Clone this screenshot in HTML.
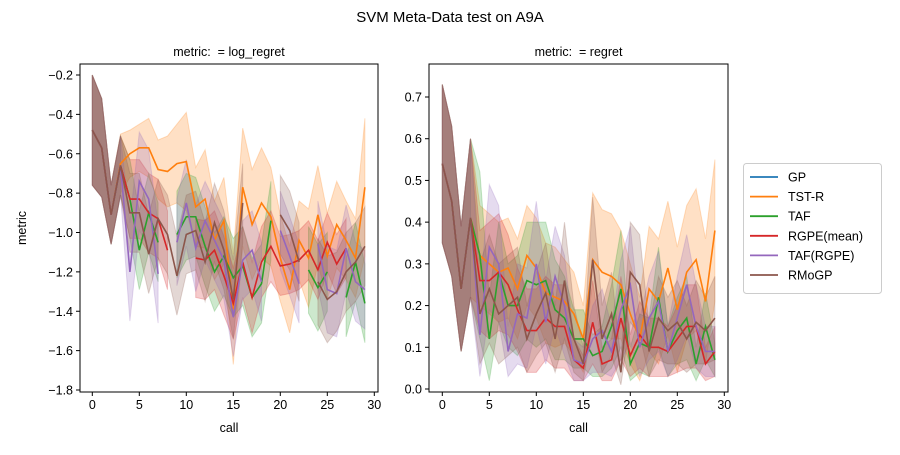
<!DOCTYPE html>
<html><head><meta charset="utf-8"><style>
body{margin:0;background:#fff;}
svg text{font-family:"Liberation Sans",sans-serif;fill:#000;white-space:pre;}
</style></head><body>
<svg id="c" width="900" height="450" xmlns="http://www.w3.org/2000/svg">
<text x="450" y="22" font-size="15" text-anchor="middle">SVM Meta-Data test on A9A</text>
</svg>
<script>
const seriesNames=["GP","TST-R","TAF","RGPE(mean)","TAF(RGPE)","RMoGP"];
const colors=["#1f77b4","#ff7f0e","#2ca02c","#d62728","#9467bd","#8c564b"];
const xTicks=[0,5,10,15,20,25,30];
const logTicks=[-0.2,-0.4,-0.6,-0.8,-1.0,-1.2,-1.4,-1.6,-1.8];
const regTicks=[0.0,0.1,0.2,0.3,0.4,0.5,0.6,0.7];
const N=null;
// log_regret means
const logGP=[-0.48,-0.57,-0.91,-0.66,N,N,N,N,N,N,N,N,N,N,N,N,N,N,N,N,N,N,N,N,N,N,N,N,N,N];
const logTST=[-0.48,-0.57,-0.91,-0.65,-0.6,-0.57,-0.57,-0.68,-0.69,-0.65,-0.64,-0.87,-0.83,-1.04,-0.94,-1.39,-0.77,-0.96,-0.85,-0.92,-1.13,-1.29,-1.04,-1.13,-0.91,-1.12,-0.96,-1.04,-1.13,-0.77];
const logTAF=[-0.48,-0.57,-0.91,-0.66,-0.83,-1.09,-0.9,-1.05,N,-1.01,-0.92,-0.92,-1.07,-1.2,-1.12,-1.23,-1.17,-1.33,-1.26,-0.94,N,N,N,-1.19,-1.28,-1.2,N,-1.33,-1.15,-1.36];
const logRGPE=[-0.48,-0.57,-0.91,-0.66,-0.83,-0.83,-0.9,-0.93,-1.09,N,N,-1.13,-1.14,-1.09,-1.22,-1.36,-1.15,-1.33,-1.15,-1.07,-1.17,-1.16,-1.14,-1.09,-1.19,-1.05,-1.16,-1.08,N,N];
const logTAFR=[-0.48,-0.57,-0.91,-0.66,-1.2,-0.74,-0.83,-1.21,N,-1.05,-0.85,-1.08,-0.94,-1.04,-1.14,-1.43,-1.14,-1.09,-1.25,N,-0.99,-1.12,-1.26,N,-1.06,-1.29,-1.31,-1.08,-1.25,-1.29];
const logRMo=[-0.48,-0.57,-0.91,-0.66,-0.9,-0.9,-1.11,-0.93,-1.01,-1.22,-1.01,-0.99,-1.15,-0.95,-1.09,-1.34,-0.85,N,N,N,-0.91,-0.99,-1.15,N,-1.25,-1.34,-1.3,-1.2,-1.15,-1.07];
const logErrTST=[0.28,0.25,0.15,0.15,0.12,0.12,0.15,0.15,0.18,0.2,0.25,0.2,0.25,0.2,0.22,0.28,0.3,0.28,0.28,0.25,0.22,0.22,0.2,0.25,0.25,0.22,0.22,0.2,0.2,0.35];
const logErrTAF=[0.28,0.25,0.15,0.15,0.2,0.2,0.2,0.2,0.2,0.22,0.22,0.2,0.2,0.2,0.2,0.2,0.2,0.2,0.2,0.2,0.2,0.2,0.2,0.22,0.22,0.2,0.2,0.2,0.2,0.2];
const logErrRGPE=[0.28,0.25,0.15,0.15,0.2,0.2,0.2,0.2,0.2,0.2,0.2,0.2,0.2,0.2,0.2,0.18,0.18,0.18,0.18,0.18,0.15,0.15,0.15,0.15,0.15,0.15,0.15,0.15,0.15,0.15];
const logErrTAFR=[0.28,0.25,0.15,0.15,0.25,0.25,0.25,0.25,0.2,0.22,0.22,0.22,0.2,0.2,0.2,0.2,0.2,0.2,0.2,0.2,0.2,0.2,0.2,0.2,0.22,0.22,0.22,0.22,0.2,0.2];
const logErrRMo=[0.28,0.25,0.15,0.15,0.2,0.2,0.2,0.2,0.2,0.2,0.2,0.2,0.2,0.2,0.2,0.2,0.2,0.2,0.2,0.2,0.2,0.2,0.2,0.2,0.22,0.22,0.2,0.2,0.2,0.2];
// regret means
const regGP=[0.54,0.45,0.24,0.41,N,N,N,N,N,N,N,N,N,N,N,N,N,N,N,N,N,N,N,N,N,N,N,N,N,N];
const regTST=[0.54,0.45,0.24,0.41,0.32,0.3,0.28,0.29,0.24,0.32,0.29,0.23,0.22,0.21,0.18,0.12,0.31,0.28,0.27,0.25,0.18,0.12,0.24,0.21,0.29,0.19,0.28,0.31,0.21,0.38];
const regTAF=[0.54,0.45,0.24,0.41,0.32,0.12,0.28,0.2,0.2,0.26,0.25,0.26,0.19,0.17,0.12,0.12,0.08,0.09,0.15,0.24,0.06,0.11,0.1,0.22,0.09,0.14,0.17,0.06,0.15,0.07];
const regRGPE=[0.54,0.45,0.24,0.41,0.26,0.26,0.28,0.25,0.19,0.14,0.14,0.17,0.15,0.15,0.07,0.05,0.16,0.06,0.07,0.17,0.08,0.13,0.1,0.1,0.09,0.12,0.15,0.15,0.06,0.09];
const regTAFR=[0.54,0.45,0.24,0.41,0.13,0.34,0.3,0.09,0.18,0.17,0.3,0.16,0.27,0.2,0.07,0.06,0.12,0.14,0.09,0.19,0.25,0.1,0.17,0.21,0.09,0.17,0.25,0.15,0.09,0.09];
const regRMo=[0.54,0.45,0.24,0.41,0.18,0.24,0.18,0.2,0.22,0.12,0.18,0.23,0.12,0.26,0.12,0.06,0.31,0.12,0.18,0.04,0.28,0.25,0.09,0.17,0.14,0.16,0.12,0.16,0.14,0.17];
const regErrTST=[0.19,0.18,0.15,0.19,0.12,0.12,0.12,0.12,0.12,0.12,0.12,0.12,0.12,0.1,0.1,0.08,0.16,0.15,0.15,0.13,0.12,0.1,0.15,0.15,0.16,0.15,0.16,0.17,0.15,0.17];
const regErrTAF=[0.19,0.18,0.15,0.19,0.2,0.1,0.12,0.1,0.12,0.14,0.15,0.14,0.12,0.1,0.07,0.07,0.05,0.06,0.1,0.14,0.04,0.07,0.07,0.12,0.06,0.08,0.1,0.04,0.08,0.04];
const regErrRGPE=[0.19,0.18,0.15,0.19,0.12,0.14,0.14,0.12,0.1,0.1,0.1,0.1,0.1,0.1,0.05,0.03,0.1,0.04,0.05,0.1,0.05,0.08,0.07,0.07,0.06,0.08,0.1,0.1,0.04,0.06];
const regErrTAFR=[0.19,0.18,0.15,0.19,0.1,0.15,0.14,0.06,0.12,0.12,0.15,0.1,0.12,0.12,0.05,0.04,0.08,0.1,0.06,0.12,0.14,0.07,0.1,0.12,0.06,0.1,0.12,0.1,0.06,0.06];
const regErrRMo=[0.19,0.18,0.15,0.19,0.12,0.13,0.12,0.12,0.12,0.08,0.1,0.12,0.08,0.14,0.08,0.04,0.15,0.08,0.1,0.03,0.12,0.12,0.06,0.1,0.08,0.1,0.08,0.1,0.08,0.1];

const svg=document.getElementById('c');const NS="http://www.w3.org/2000/svg";
function mk(t,a,p){const e=document.createElementNS(NS,t);for(const k in a)e.setAttribute(k,a[k]);(p||svg).appendChild(e);return e;}
const panels=[
 {name:"log-regret",L:80,R:378,T:64,B:392,x0:92.3,yTop:-0.2,yBot:-1.8,yT:75,yB:390,ticks:logTicks,title:"metric:  = log_regret",
  means:[logGP,logTST,logTAF,logRGPE,logTAFR,logRMo],errs:[logErrTAF,logErrTST,logErrTAF,logErrRGPE,logErrTAFR,logErrRMo],fmt:v=>v.toFixed(1).replace('-','\u2212')},
 {name:"regret",L:429,R:728,T:64,B:392,x0:442.3,yTop:0.7,yBot:0.0,yT:97,yB:389,ticks:regTicks,title:"metric:  = regret",
  means:[regGP,regTST,regTAF,regRGPE,regTAFR,regRMo],errs:[regErrTAF,regErrTST,regErrTAF,regErrRGPE,regErrTAFR,regErrRMo],fmt:v=>v.toFixed(1)}
];
panels.forEach((P,pi)=>{
 const g=mk('g',{});
 
 
 const xs=v=>P.x0+v*9.4;
 const ys=v=>P.yT+(P.yTop-v)/(P.yTop-P.yBot)*(P.yB-P.yT);
 P.means.forEach((m,si)=>{
  const e=P.errs[si];let seg=[];
  const flush=()=>{if(seg.length>1){let d="";seg.forEach((i,j)=>d+=(j?"L":"M")+xs(i)+","+ys(m[i]+e[i]));for(let j=seg.length-1;j>=0;j--){const i=seg[j];d+="L"+xs(i)+","+ys(m[i]-e[i]);}
   const p=mk('path',{d:d+"Z",fill:colors[si],'fill-opacity':0.24,stroke:colors[si],'stroke-opacity':0.24},g);
   
   }seg=[];};
  m.forEach((v,i)=>{if(v===null)flush();else seg.push(i);});flush();
 });
 P.means.forEach((m,si)=>{
  let d="",pen=false;
  m.forEach((v,i)=>{if(v===null){pen=false;return;}d+=(pen?"L":"M")+xs(i)+","+ys(v);pen=true;});
  const p=mk('path',{d:d,fill:"none",stroke:colors[si],'stroke-width':1.6},g);
  
  
 });
 const fr=mk('rect',{x:P.L,y:P.T,width:P.R-P.L,height:P.B-P.T,fill:"none",stroke:"#000","stroke-width":1},g);
 
 
 xTicks.forEach(t=>{const x=xs(t);mk('line',{x1:x,x2:x,y1:P.B,y2:P.B+4,stroke:"#000"},g);
  const tx=mk('text',{x:x,y:P.B+17,'font-size':12.5,'text-anchor':'middle'},g);tx.textContent=t;
  
  });
 P.ticks.forEach(t=>{const y=ys(t);mk('line',{x1:P.L-4,x2:P.L,y1:y,y2:y,stroke:"#000"},g);
  const tx=mk('text',{x:P.L-7,y:y+4.5,'font-size':12.5,'text-anchor':'end'},g);tx.textContent=P.fmt(t);
  
  });
 const st=mk('text',{x:(P.L+P.R)/2,y:56,'font-size':12.5,'text-anchor':'middle','xml:space':'preserve'},g);st.textContent=P.title;
 
 
 const xl=mk('text',{x:(P.L+P.R)/2,y:432,'font-size':12.5,'text-anchor':'middle'},g);xl.textContent="call";
 
 
});
const yl=mk('text',{x:0,y:0,'font-size':12.5,'text-anchor':'middle',transform:"translate(26,228) rotate(-90)"});yl.textContent="metric";


const lg=mk('g',{});


mk('rect',{x:743.5,y:163.5,width:138,height:130,rx:3,fill:"#fff",stroke:"#ccc"},lg);
seriesNames.forEach((n,i)=>{const y=177+i*19.6;
 const e=mk('g',{},lg);
 
 
 mk('line',{x1:750,x2:778,y1:y,y2:y,stroke:colors[i],'stroke-width':1.8},e);
 const t=mk('text',{x:788,y:y+4.5,'font-size':12.5},e);t.textContent=n;});
</script>
</body></html>
